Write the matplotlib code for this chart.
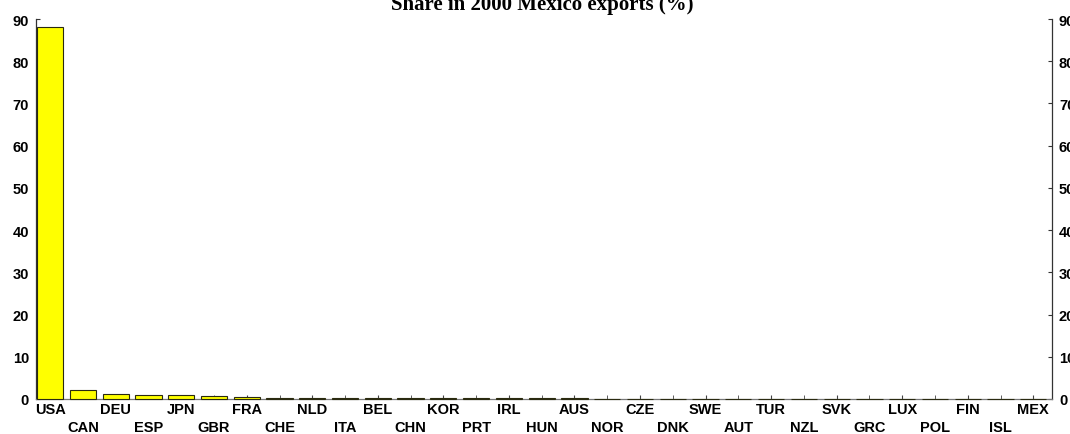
import matplotlib
matplotlib.use("Agg")
import matplotlib.pyplot as plt
import numpy as np

countries = ["USA", "CAN", "DEU", "ESP", "JPN", "GBR", "FRA", "CHE", "NLD", "ITA",
             "BEL", "CHN", "KOR", "PRT", "IRL", "HUN", "AUS", "NOR", "CZE", "DNK",
             "SWE", "AUT", "TUR", "NZL", "SVK", "GRC", "LUX", "POL", "FIN", "ISL", "MEX"]
shares = [88.2, 2.1, 1.1, 1.0, 0.9, 0.65, 0.4, 0.3, 0.28, 0.27,
          0.25, 0.2, 0.18, 0.17, 0.15, 0.13, 0.12, 0.1, 0.09, 0.08,
          0.08, 0.07, 0.06, 0.06, 0.05, 0.05, 0.05, 0.05, 0.04, 0.0, 0.0]
yticks = list(range(0, 91, 10))
title = "Share in 2000 Mexico exports (%)"

fig = plt.figure(figsize=(10.70, 4.35), dpi=100)
ax = fig.add_axes([36 / 1070, 35 / 435, (1052 - 36) / 1070, (400 - 20) / 435])

x = np.arange(len(countries))
ax.bar(x, shares, width=0.8, color="#ffff00", edgecolor="#2a2a10", linewidth=0.8,
       zorder=3, clip_on=False)

ax.set_xlim(-0.43, len(countries) - 0.43)
ax.set_ylim(0, 90)

lab_font = dict(family="Liberation Sans", weight="bold", size=10.5)

ax.set_xticks(x[::2], [countries[i] for i in x[::2]], **lab_font)
ax.set_xticks(x[1::2], [countries[i] for i in x[1::2]], minor=True, **lab_font)
ax.tick_params(axis="x", which="major", direction="in", length=3, pad=2.5, color="#444444")
ax.tick_params(axis="x", which="minor", direction="in", length=3, pad=15, color="#444444")

ax.set_yticks(yticks)
ax.set_yticklabels([str(v) for v in yticks], **lab_font)
ax.tick_params(axis="y", direction="in", length=3, pad=5, left=True, right=True,
               labelleft=True, labelright=True, color="#333333")

for side in ["left", "right", "bottom"]:
    ax.spines[side].set_color("#333333")
    ax.spines[side].set_linewidth(0.9)
ax.spines["bottom"].set_color("#777777")
ax.spines["top"].set_visible(False)

fig.text(542 / 1070, 1 - 5 / 435, title, ha="center", va="center",
         family="Liberation Serif", weight="bold", size=15)

fig.savefig("out.png", dpi=100)
